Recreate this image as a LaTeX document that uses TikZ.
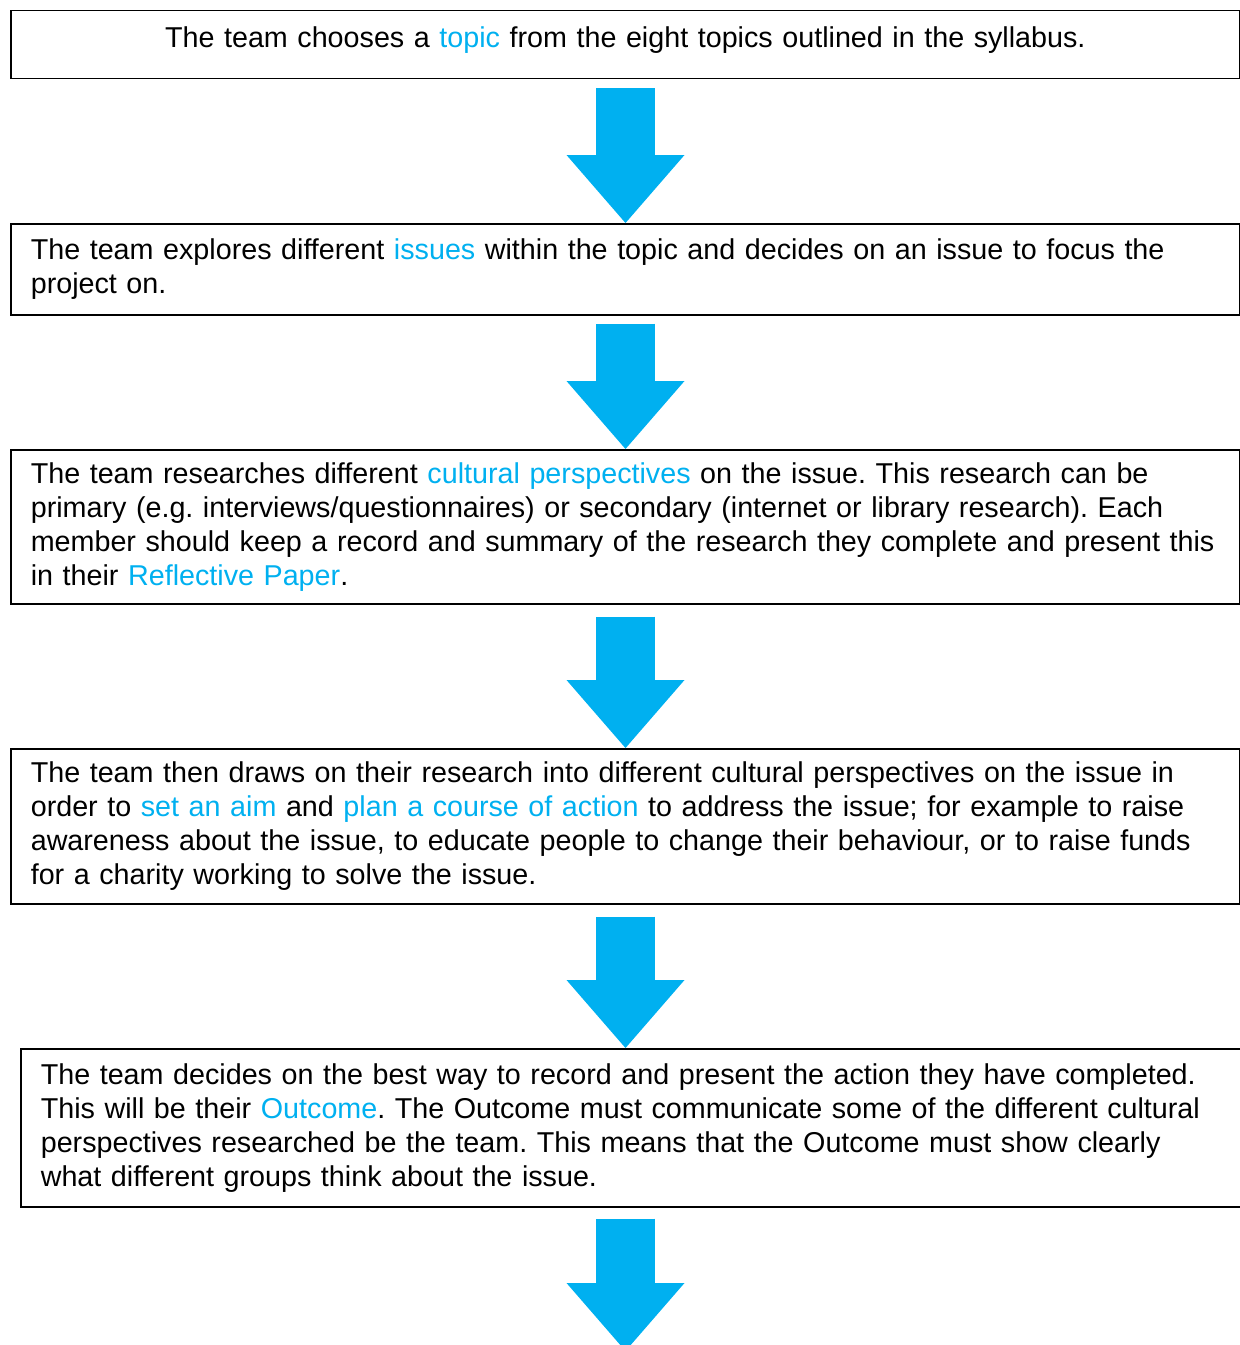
\documentclass[tikz,border=0pt]{standalone}
\usepackage{fontspec}
\setmainfont{Liberation Sans}
\usetikzlibrary{arrows.meta}
\definecolor{linkblue}{HTML}{00B0F0}
\newcommand{\hl}[1]{\textcolor{linkblue}{#1}}
\frenchspacing

\begin{document}
\begin{tikzpicture}[x=1pt,y=-1pt,
  stage/.style={draw,line width=1.6pt,anchor=north west,inner xsep=20pt,inner ysep=0pt,
    text width=1189pt,align=left,font=\fontsize{28.7}{34}\selectfont},
  downarrow/.style={linkblue,line width=59pt,-{Triangle[width=118pt,length=68pt,line width=0pt]}}]
\useasboundingbox (0,0) rectangle (1240,1345);
% the five steps
\node[stage,align=center,minimum height=68pt,text depth=15pt] (topic) at (10,9.5)
  {The team chooses a \hl{topic} from the eight topics outlined in the syllabus.};
\node[stage,minimum height=91pt] (issue) at (10,223)
  {The team explores different \hl{issues} within the topic and decides on an issue to focus the\\
   project on.};
\node[stage,minimum height=154pt] (research) at (10,449)
  {The team researches different \hl{cultural perspectives} on the issue. This research can be\\
   primary (e.g. interviews/questionnaires) or secondary (internet or library research). Each\\
   member should keep a record and summary of the research they complete and present this\\
   in their \hl{Reflective Paper}.};
\node[stage,minimum height=155pt] (action) at (10,748)
  {The team then draws on their research into different cultural perspectives on the issue in\\
   order to \hl{set an aim} and \hl{plan a course of action} to address the issue; for example to raise\\
   awareness about the issue, to educate people to change their behaviour, or to raise funds\\
   for a charity working to solve the issue.};
\node[stage,text width=1192pt,minimum height=158pt] (outcome) at (20,1048)
  {The team decides on the best way to record and present the action they have completed.\\
   This will be their \hl{Outcome}. The Outcome must communicate some of the different cultural\\
   perspectives researched be the team. This means that the Outcome must show clearly\\
   what different groups think about the issue.};
\coordinate (tail) at (625.5,1351);
% arrows between steps
\draw[downarrow] ([yshift=-9pt]topic.south -| tail) -- (issue.north -| tail);
\draw[downarrow] ([yshift=-8pt]issue.south -| tail) -- (research.north -| tail);
\draw[downarrow] ([yshift=-12pt]research.south -| tail) -- (action.north -| tail);
\draw[downarrow] ([yshift=-12pt]action.south -| tail) -- (outcome.north -| tail);
\draw[downarrow] ([yshift=-11pt]outcome.south -| tail) -- (tail);
\end{tikzpicture}
\end{document}
